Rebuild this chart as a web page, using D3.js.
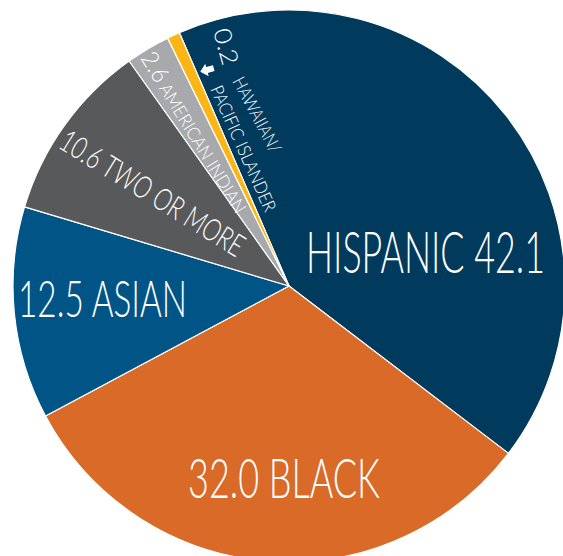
<!DOCTYPE html>
<html>
<head>
<meta charset="utf-8">
<script src="https://cdn.jsdelivr.net/npm/d3@7"></script>
<style>
  html, body { margin: 0; padding: 0; background: #fff; }
  svg { display: block; }
  text { font-family: "Lato", "Open Sans", sans-serif; font-weight: 300; fill: #fff; }
</style>
</head>
<body>
<svg id="chart" width="563" height="556"></svg>
<script>
// ---- data ----
const categories = ["Hispanic", "Black", "Asian", "Two or more", "American Indian", "Hawaiian/Pacific Islander"];
const values = [42.1, 32.0, 12.5, 10.6, 2.6, 0.2];
const colors = ["#003a5d", "#d96a27", "#005486", "#58595b", "#a7a9ac", "#fbb616"];
const valueLabels = ["42.1", "32.0", "12.5", "10.6", "2.6", "0.2"];
const nameLabels = ["HISPANIC", "BLACK", "ASIAN", "TWO OR MORE", "AMERICAN INDIAN", "HAWAIIAN/ PACIFIC ISLANDER"];

// ---- layout ----
const W = 563, H = 556;
const cx = 289, cy = 286, R = 276;
const startDeg = -23.4;
const minShown = 0.75; // tiny slices are drawn with a minimum visible width

const svg = d3.select("#chart");
const g = svg.append("g").attr("transform", `translate(${cx},${cy})`);

const data = categories.map((c, i) => ({ name: c, value: values[i], color: colors[i], i }));
const pie = d3.pie().value(d => Math.max(d.value, minShown)).sort(null)
  .startAngle(startDeg * Math.PI / 180)
  .endAngle(startDeg * Math.PI / 180 + 2 * Math.PI);
const arc = d3.arc().innerRadius(0).outerRadius(R);

g.selectAll("path.slice").data(pie(data)).join("path")
  .attr("class", "slice")
  .attr("d", arc)
  .attr("fill", d => d.data.color)
  .attr("stroke", "#fff")
  .attr("stroke-width", 1.2)
  .attr("stroke-linejoin", "round");

// ---- labels (offsets relative to pie centre), condensed by horizontal scaling ----
function label(parts, dx, dy, rot, len, anchor) {
  const t = g.append("text").attr("text-anchor", anchor);
  parts.forEach(p => t.append("tspan").attr("font-size", p.size).text(p.text));
  const natural = t.node().getComputedTextLength();
  const sx = len / natural;
  t.attr("transform", `translate(${dx},${dy}) rotate(${rot}) scale(${sx},1)`);
  return t;
}

label([{ text: nameLabels[0] + " " + valueLabels[0], size: 57 }], 136.5, -13, 0, 239, "middle");
label([{ text: valueLabels[1] + " " + nameLabels[1], size: 56 }], -5, 212, 0, 192, "middle");
label([{ text: valueLabels[2] + " " + nameLabels[2], size: 51 }], -186.5, 31, 0, 169, "middle");

label([{ text: valueLabels[3] + " " + nameLabels[3], size: 31 }], -232, -139, 31.7, 211, "start");
label([{ text: valueLabels[4], size: 24 }, { text: " " + nameLabels[4], size: 18 }], -149, -228, 58.5, 184, "start");
label([{ text: valueLabels[5], size: 24 }], -76, -255, 74.5, 37, "start");
label([{ text: "HAWAIIAN/", size: 18 }], -57, -205, 62, 83, "start");
label([{ text: "PACIFIC ISLANDER", size: 18 }], -79, -197, 66, 136, "start");

// block arrow pointing toward the thin slice
const arrowAngle = 74.5 + 90;
g.append("path")
  .attr("transform", `translate(${-82},${-216}) rotate(${arrowAngle})`)
  .attr("d", "M-7,-3 L0,-3 L0,-6.5 L7,0 L0,6.5 L0,3 L-7,3 Z")
  .attr("fill", "#fff");
</script>
</body>
</html>
